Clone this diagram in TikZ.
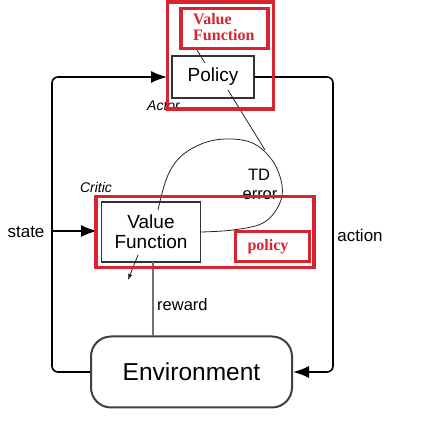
\documentclass[tikz,border=0pt]{standalone}
\usepackage{fontspec}
\setmainfont{Liberation Sans}
\newfontfamily\serifbold{Liberation Serif}
\usetikzlibrary{arrows.meta}
\definecolor{hired}{RGB}{216,36,46}
\tikzset{
  blockbox/.style={draw=black!80, line width=1.3pt, fill=white, inner sep=0pt},
  redbox/.style={draw=hired, line width=3.6pt},
  loopline/.style={draw=black, line width=1.6pt, rounded corners=6pt},
  thinline/.style={draw=black!85, line width=0.8pt},
  tip/.style={-{Latex[length=16pt,width=12pt]}},
  lbl/.style={font=\fontsize{17}{19}\selectfont, inner sep=0pt},
  redlbl/.style={text=hired, font=\serifbold\bfseries\fontsize{16}{16}\selectfont, inner sep=0pt, align=left}
}
\begin{document}
\begin{tikzpicture}[x=1pt,y=-1pt]
\useasboundingbox (0,0) rectangle (432,427);
\fill[white] (0,0) rectangle (432,427);

% main blocks
\node[blockbox, minimum width=82pt, minimum height=42pt, font=\fontsize{19}{20}\selectfont] (policy) at (213,77) {Policy};
\node[blockbox, minimum width=99pt, minimum height=60pt, align=center, font=\fontsize{19}{20}\selectfont] (vf) at (151,232) {Value\\Function};
\node[draw=black!75, line width=2pt, rounded corners=20pt, fill=white, minimum width=201pt, minimum height=71pt, inner sep=0pt, font=\fontsize{24.5}{26}\selectfont] (env) at (191.5,372) {Environment};

% loop corners
\coordinate (lt) at (52,77);
\coordinate (lb) at (52,372);
\coordinate (rt) at (333,77);
\coordinate (rb) at (333,372);
\coordinate (ls) at (52,231);
\coordinate (pin) at (167,77);
\coordinate (vin) at (97,231);

% state loop
\draw[loopline, tip] (env.west) -- (lb) -- (lt) -- (pin);
\draw[black, line width=1.6pt, tip] (ls) -- (vin);
% action loop
\draw[loopline, tip] (policy.east) -- (rt) -- (rb) -- (env.east);

% reward
\coordinate (rw) at (153,262);
\draw[black!55, line width=1.2pt] (rw) -- (153,336);

% small arrow from value function
\coordinate (sa1) at (138,255);
\coordinate (sa2) at (128,280);
\draw[thinline, -{Latex[length=6pt,width=4.5pt]}] (sa1) -- (sa2);

% TD error curve
\draw[thinline] plot[smooth, tension=0.6] coordinates {(158,210) (168,175) (185,153) (215,140) (250,142) (272,160) (282,185) (279,205) (263,223) (233,230) (201,232)};
\coordinate (pl1) at (228,90);
\coordinate (pl2) at (265,150);
\draw[thinline] (pl1) -- (pl2);
\coordinate (ps1) at (197,50);
\coordinate (ps2) at (205,63);
\draw[thinline] (ps1) -- (ps2);

% labels
\node[lbl] (state) at (26,232) {state};
\node[lbl] (action) at (360,235) {action};
\node[lbl, anchor=west, font=\fontsize{16.5}{18}\selectfont] (reward) at (157,305) {reward};
\node[lbl, font=\fontsize{16.5}{18}\selectfont] (td) at (259,175) {TD};
\node[lbl, font=\fontsize{16.5}{18}\selectfont] (err) at (260,195) {error};
\node[lbl, anchor=west, font=\itshape\fontsize{14}{16}\selectfont] (actor) at (147,106) {Actor};
\node[lbl, font=\itshape\fontsize{14}{16}\selectfont] (critic) at (96,188) {Critic};

% red overlays
\draw[redbox] (167.5,2) rectangle (273.5,109);
\node[redbox, minimum width=87pt, minimum height=40pt, inner sep=0pt] (rvf) at (224.5,28.5) {};
\node[redlbl, anchor=north west] (rvft) at (193,13) {Value\\Function};
\draw[redbox] (96,196.5) rectangle (314,267.5);
\node[draw=hired, line width=3pt, minimum width=74pt, minimum height=30pt, inner sep=0pt] (rpol) at (272.5,247) {};
\node[redlbl] (rpolt) at (268,247) {policy};
\end{tikzpicture}
\end{document}
